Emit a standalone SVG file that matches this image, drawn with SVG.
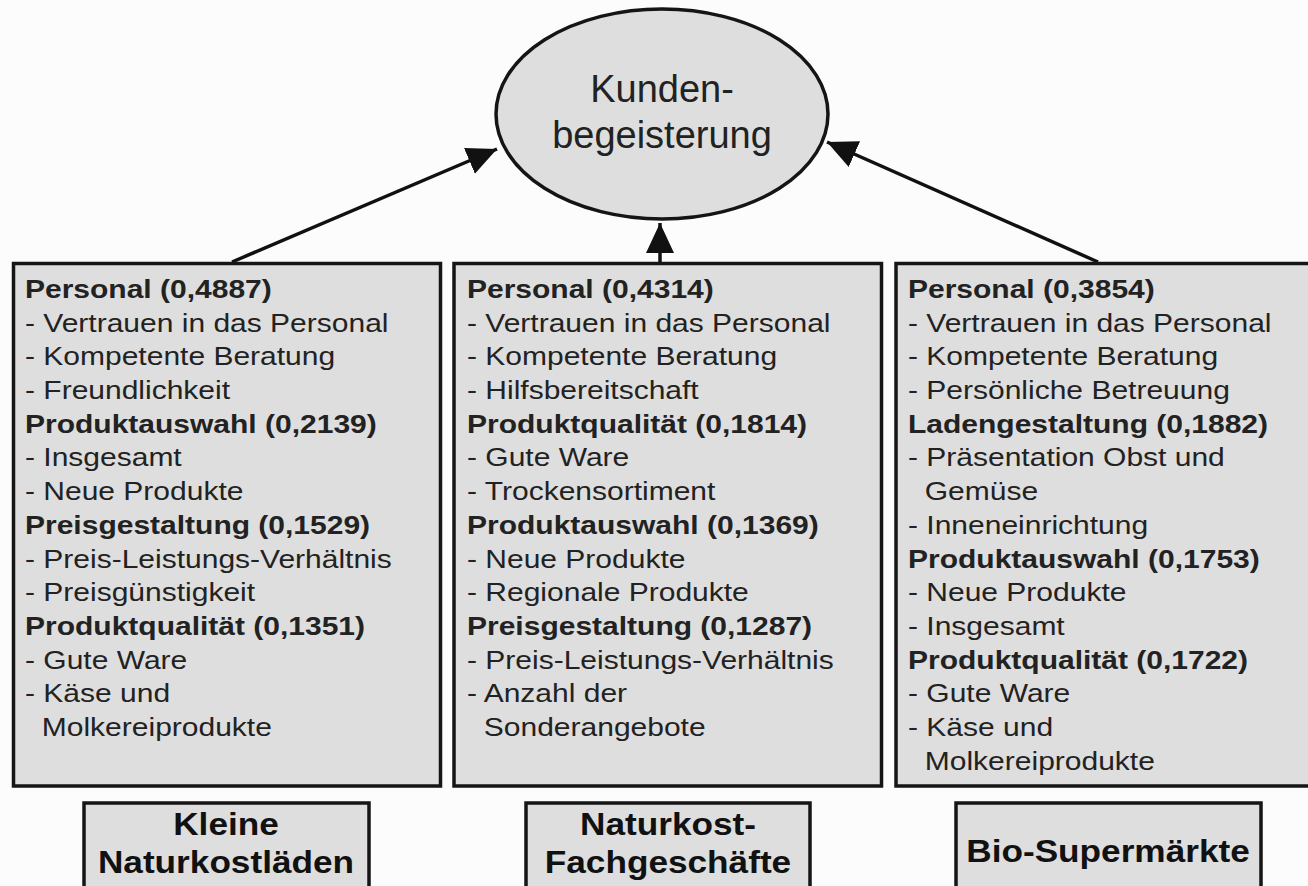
<svg xmlns="http://www.w3.org/2000/svg" width="1308" height="886" viewBox="0 0 1308 886">
<defs>
<marker id="ah" markerUnits="userSpaceOnUse" markerWidth="32" markerHeight="30" refX="30" refY="14" orient="auto">
<path d="M0,0 L30,14 L0,28 z" fill="#111"/>
</marker>
<style>
.box{fill:#dedede;stroke:#151515;stroke-width:3.5}
.t{font-family:"Liberation Sans",Arial,sans-serif;font-size:25px;fill:#222}
.b{font-weight:bold}
.lbl{font-family:"Liberation Sans",Arial,sans-serif;font-size:32px;font-weight:bold;fill:#111;text-anchor:middle}
.big{font-family:"Liberation Sans",Arial,sans-serif;font-size:38px;fill:#222;text-anchor:middle}
.con{stroke:#111;stroke-width:3.5;fill:none;marker-end:url(#ah)}
</style>
</defs>
<rect width="1308" height="886" fill="#fcfcfc"/>
<g id="connectors">
<line class="con" x1="232" y1="262" x2="497" y2="149"/>
<line class="con" x1="660" y1="262" x2="660" y2="223"/>
<line class="con" x1="1098" y1="262" x2="827" y2="142"/>
</g>
<g id="kundenbegeisterung">
<ellipse cx="662" cy="114" rx="166" ry="105" fill="#dedede" stroke="#151515" stroke-width="3.5"/>
<text class="big" x="662" y="102">Kunden-</text>
<text class="big" x="662" y="148">begeisterung</text>
</g>
<g id="box-kleine">
<rect class="box" x="13.5" y="263.5" width="427" height="522.5"/>
<g transform="translate(25,0) scale(1.2,1)">
<text class="t b" x="0" y="298">Personal (0,4887)</text>
<text class="t" x="0" y="331.7">- Vertrauen in das Personal</text>
<text class="t" x="0" y="365.4">- Kompetente Beratung</text>
<text class="t" x="0" y="399.1">- Freundlichkeit</text>
<text class="t b" x="0" y="432.8">Produktauswahl (0,2139)</text>
<text class="t" x="0" y="466.5">- Insgesamt</text>
<text class="t" x="0" y="500.2">- Neue Produkte</text>
<text class="t b" x="0" y="533.9">Preisgestaltung (0,1529)</text>
<text class="t" x="0" y="567.6">- Preis-Leistungs-Verhältnis</text>
<text class="t" x="0" y="601.3">- Preisgünstigkeit</text>
<text class="t b" x="0" y="635">Produktqualität (0,1351)</text>
<text class="t" x="0" y="668.7">- Gute Ware</text>
<text class="t" x="0" y="702.4">- Käse und</text>
<text class="t" x="14" y="736.1">Molkereiprodukte</text>
</g>
</g>
<g id="box-fach">
<rect class="box" x="454" y="263.5" width="427.5" height="522.5"/>
<g transform="translate(467,0) scale(1.2,1)">
<text class="t b" x="0" y="298">Personal (0,4314)</text>
<text class="t" x="0" y="331.7">- Vertrauen in das Personal</text>
<text class="t" x="0" y="365.4">- Kompetente Beratung</text>
<text class="t" x="0" y="399.1">- Hilfsbereitschaft</text>
<text class="t b" x="0" y="432.8">Produktqualität (0,1814)</text>
<text class="t" x="0" y="466.5">- Gute Ware</text>
<text class="t" x="0" y="500.2">- Trockensortiment</text>
<text class="t b" x="0" y="533.9">Produktauswahl (0,1369)</text>
<text class="t" x="0" y="567.6">- Neue Produkte</text>
<text class="t" x="0" y="601.3">- Regionale Produkte</text>
<text class="t b" x="0" y="635">Preisgestaltung (0,1287)</text>
<text class="t" x="0" y="668.7">- Preis-Leistungs-Verhältnis</text>
<text class="t" x="0" y="702.4">- Anzahl der</text>
<text class="t" x="14" y="736.1">Sonderangebote</text>
</g>
</g>
<g id="box-bio">
<rect class="box" x="896" y="263.5" width="420" height="522.5"/>
<g transform="translate(908,0) scale(1.2,1)">
<text class="t b" x="0" y="298">Personal (0,3854)</text>
<text class="t" x="0" y="331.7">- Vertrauen in das Personal</text>
<text class="t" x="0" y="365.4">- Kompetente Beratung</text>
<text class="t" x="0" y="399.1">- Persönliche Betreuung</text>
<text class="t b" x="0" y="432.8">Ladengestaltung (0,1882)</text>
<text class="t" x="0" y="466.5">- Präsentation Obst und</text>
<text class="t" x="14" y="500.2">Gemüse</text>
<text class="t" x="0" y="533.9">- Inneneinrichtung</text>
<text class="t b" x="0" y="567.6">Produktauswahl (0,1753)</text>
<text class="t" x="0" y="601.3">- Neue Produkte</text>
<text class="t" x="0" y="635">- Insgesamt</text>
<text class="t b" x="0" y="668.7">Produktqualität (0,1722)</text>
<text class="t" x="0" y="702.4">- Gute Ware</text>
<text class="t" x="0" y="736.1">- Käse und</text>
<text class="t" x="14" y="769.8">Molkereiprodukte</text>
</g>
</g>
<g id="label-kleine">
<rect class="box" x="84" y="803" width="285" height="100"/>
<g transform="translate(226,0) scale(1.1,1)">
<text class="lbl" x="0" y="835">Kleine</text>
<text class="lbl" x="0" y="873">Naturkostläden</text>
</g>
</g>
<g id="label-fach">
<rect class="box" x="526" y="803" width="284" height="100"/>
<g transform="translate(668,0) scale(1.1,1)">
<text class="lbl" x="0" y="835">Naturkost-</text>
<text class="lbl" x="0" y="873">Fachgeschäfte</text>
</g>
</g>
<g id="label-bio">
<rect class="box" x="956" y="803" width="305" height="100"/>
<g transform="translate(1108,0) scale(1.1,1)">
<text class="lbl" x="0" y="862">Bio-Supermärkte</text>
</g>
</g>
</svg>
